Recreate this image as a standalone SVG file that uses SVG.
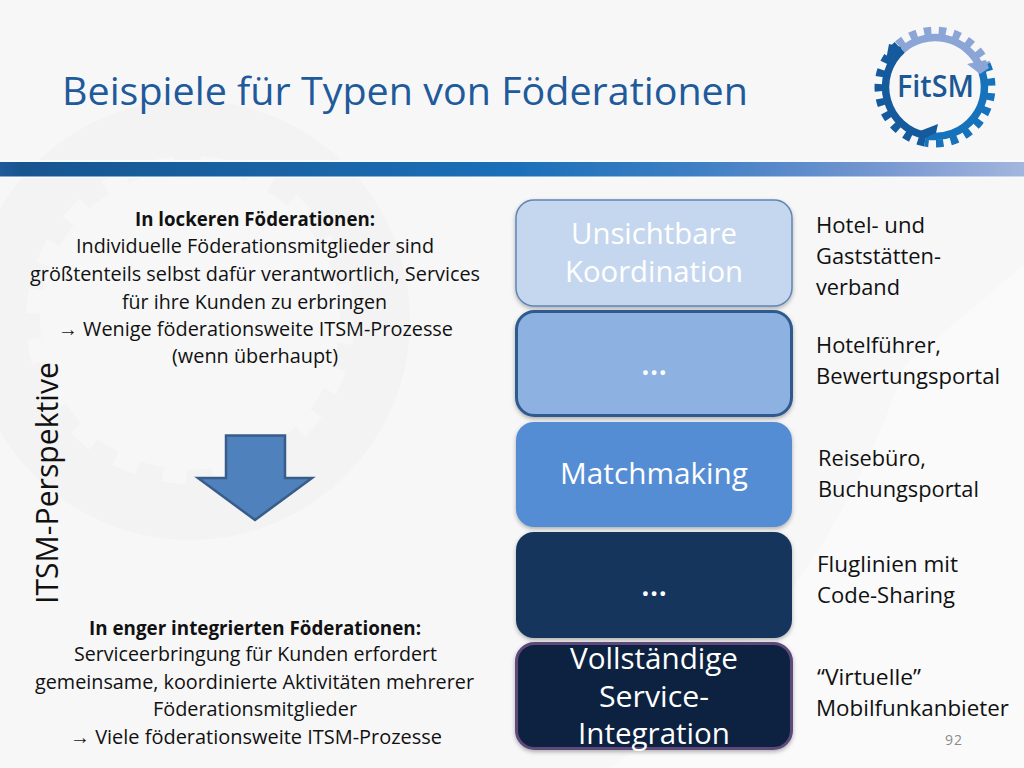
<svg xmlns="http://www.w3.org/2000/svg" width="1024" height="768" viewBox="0 0 1024 768">
<defs>
<linearGradient id="bar" x1="0" x2="1" y1="0" y2="0"><stop offset="0" stop-color="#1f5a99"/><stop offset="0.02" stop-color="#17558f"/><stop offset="0.5" stop-color="#1a6fb8"/><stop offset="0.68" stop-color="#3f7fc4"/><stop offset="0.85" stop-color="#7395d0"/><stop offset="1" stop-color="#a3b6dd"/></linearGradient>
<filter id="sh" x="-5%" y="-5%" width="110%" height="115%"><feDropShadow dx="0" dy="2" stdDeviation="2" flood-color="#000" flood-opacity="0.3"/></filter>
<style>
text{font-family:"Open Sans","Noto Sans","Liberation Sans",sans-serif}
.b{font-size:19.5px;fill:#111;text-anchor:start}
.h{font-weight:700}
.r{font-size:22px;fill:#111}
.n{font-size:30px;fill:#fff}
.d{font-size:32px;fill:#fff;font-weight:600}
.box{filter:url(#sh)}
.ar{font-family:"Liberation Sans",sans-serif}
</style>
</defs>
<rect width="1024" height="768" fill="#f7f7f8"/>
<g id="background">
<path d="M1024 265 L1024 768 L610 768 Q820 620 905 365 Z" fill="#fafafb"/>
<circle cx="190" cy="320" r="220" fill="#f3f3f4"/>
<circle cx="190" cy="320" r="150" fill="#f7f7f8"/>
<circle cx="190" cy="320" r="157" fill="none" stroke="#f7f7f8" stroke-width="14" stroke-dasharray="24 26"/>
<rect x="0" y="160" width="1024" height="18" fill="#f8fbfe"/>
<rect x="0" y="162" width="1024" height="14.500" fill="url(#bar)"/>
</g>
<text x="62" y="105" font-size="39" fill="#215a9b" textLength="686" lengthAdjust="spacingAndGlyphs">Beispiele für Typen von Föderationen</text>
<g id="logo">
<path d="M902.300 49.900 A49.500 49.500 0 0 1 980.200 66.900" fill="none" stroke="#8aa5d6" stroke-width="7.500"/>
<path d="M897.700 44.600 A56.500 56.500 0 0 1 986.600 64.100" fill="none" stroke="#8aa5d6" stroke-width="8" stroke-dasharray="7.400 7.400"/>
<path d="M980.200 66.900 A49.500 49.500 0 0 1 926.100 135.700" fill="none" stroke="#1672bb" stroke-width="7.500"/>
<path d="M986.600 64.100 A56.500 56.500 0 0 1 924.800 142.600" fill="none" stroke="#1672bb" stroke-width="8" stroke-dasharray="7.400 7.400"/>
<path d="M926.100 135.700 A49.500 49.500 0 0 1 902.300 49.900" fill="none" stroke="#155a9c" stroke-width="7.500"/>
<path d="M924.800 142.600 A56.500 56.500 0 0 1 897.700 44.600" fill="none" stroke="#155a9c" stroke-width="8" stroke-dasharray="7.400 7.400"/>
<polygon points="967,64 986,60 989,68 980,74" fill="#8aa5d6"/>
<polygon points="889,44 901,47 893,68 886,60" fill="#155a9c"/>
<polygon points="938,124 936,133 925,138 920,131" fill="#155a9c"/>
<text x="897" y="97" font-size="30" font-weight="600" fill="#1c5796" textLength="77" lengthAdjust="spacingAndGlyphs">FitSM</text>
</g>
<g id="text-left">
<text class="b h" x="135" y="226" textLength="240" lengthAdjust="spacingAndGlyphs">In lockeren Föderationen:</text>
<text class="b" x="76" y="253" textLength="358" lengthAdjust="spacingAndGlyphs">Individuelle Föderationsmitglieder sind</text>
<text class="b" x="30" y="281" textLength="450" lengthAdjust="spacingAndGlyphs">größtenteils selbst dafür verantwortlich, Services</text>
<text class="b" x="122" y="309" textLength="265" lengthAdjust="spacingAndGlyphs">für ihre Kunden zu erbringen</text>
<text class="b" x="58" y="336" textLength="395" lengthAdjust="spacingAndGlyphs"><tspan class="ar">→</tspan> Wenige föderationsweite ITSM-Prozesse</text>
<text class="b" x="172" y="363" textLength="166" lengthAdjust="spacingAndGlyphs">(wenn überhaupt)</text>
<text class="b h" x="89" y="635" textLength="332" lengthAdjust="spacingAndGlyphs">In enger integrierten Föderationen:</text>
<text class="b" x="74" y="661" textLength="363" lengthAdjust="spacingAndGlyphs">Serviceerbringung für Kunden erfordert</text>
<text class="b" x="35" y="689" textLength="439" lengthAdjust="spacingAndGlyphs">gemeinsame, koordinierte Aktivitäten mehrerer</text>
<text class="b" x="153" y="716" textLength="204" lengthAdjust="spacingAndGlyphs">Föderationsmitglieder</text>
<text class="b" x="70" y="744" textLength="372" lengthAdjust="spacingAndGlyphs"><tspan class="ar">→</tspan> Viele föderationsweite ITSM-Prozesse</text>
<text font-size="31" fill="#111" transform="translate(57.500 604) rotate(-90)" textLength="242" lengthAdjust="spacingAndGlyphs">ITSM-Perspektive</text>
</g>
<g id="connectors">
<polygon points="226,435.500 285,435.500 285,478 312,478 255,520 198,478 226,478" fill="#4f81bd" stroke="#385d8a" stroke-width="2.500"/>
</g>
<g id="node-1"><rect class="box" x="516" y="200" width="276" height="106" rx="18" fill="#c5d7ef" stroke="#5f85b5" stroke-width="1.500"/>
<text class="n" x="571" y="244" textLength="166" lengthAdjust="spacingAndGlyphs">Unsichtbare</text>
<text class="n" x="565" y="282" textLength="178" lengthAdjust="spacingAndGlyphs">Koordination</text></g>
<g id="node-2"><rect class="box" x="516.500" y="311.500" width="275" height="104" rx="18" fill="#8db1e1" stroke="#2f5a8e" stroke-width="3"/>
<text class="d" x="654" y="375" text-anchor="middle">…</text></g>
<g id="node-3"><rect class="box" x="516" y="422" width="276" height="105" rx="18" fill="#548dd4"/>
<text class="n" x="560" y="484" textLength="188" lengthAdjust="spacingAndGlyphs">Matchmaking</text></g>
<g id="node-4"><rect class="box" x="516" y="532" width="276" height="106" rx="18" fill="#17365d"/>
<text class="d" x="654" y="596" text-anchor="middle">…</text></g>
<g id="node-5"><rect class="box" x="516.500" y="643.500" width="275" height="105" rx="18" fill="#10243f" stroke="#5f4a7a" stroke-width="3"/>
<text class="n" x="570" y="669" textLength="168" lengthAdjust="spacingAndGlyphs">Vollständige</text>
<text class="n" x="599" y="707" textLength="110" lengthAdjust="spacingAndGlyphs">Service-</text>
<text class="n" x="578" y="744" textLength="152" lengthAdjust="spacingAndGlyphs">Integration</text></g>
<g id="text-right">
<text class="r" x="816" y="233" textLength="109" lengthAdjust="spacingAndGlyphs">Hotel- und</text>
<text class="r" x="816" y="264" textLength="125" lengthAdjust="spacingAndGlyphs">Gaststätten-</text>
<text class="r" x="816" y="295" textLength="84" lengthAdjust="spacingAndGlyphs">verband</text>
<text class="r" x="816" y="353" textLength="125" lengthAdjust="spacingAndGlyphs">Hotelführer,</text>
<text class="r" x="816" y="384" textLength="184" lengthAdjust="spacingAndGlyphs">Bewertungsportal</text>
<text class="r" x="818" y="466" textLength="108" lengthAdjust="spacingAndGlyphs">Reisebüro,</text>
<text class="r" x="818" y="497" textLength="161" lengthAdjust="spacingAndGlyphs">Buchungsportal</text>
<text class="r" x="817" y="572" textLength="141" lengthAdjust="spacingAndGlyphs">Fluglinien mit</text>
<text class="r" x="817" y="603" textLength="138" lengthAdjust="spacingAndGlyphs">Code-Sharing</text>
<text class="r" x="817" y="685" textLength="104" lengthAdjust="spacingAndGlyphs">“Virtuelle”</text>
<text class="r" x="816" y="716" textLength="193" lengthAdjust="spacingAndGlyphs">Mobilfunkanbieter</text>
<text x="945" y="745" font-size="14" fill="#8a8a8a" textLength="17">92</text>
</g>
</svg>
